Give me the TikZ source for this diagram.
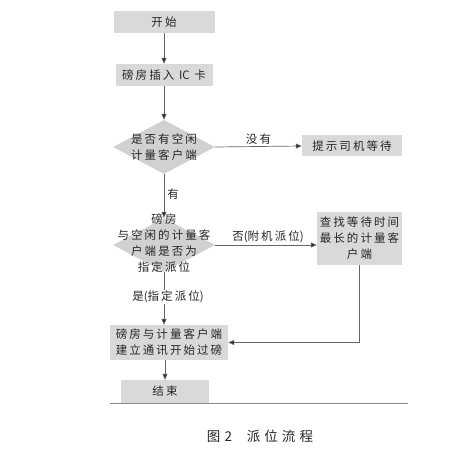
\documentclass[tikz,border=0pt]{standalone}
\usepackage{fontspec}
\setmainfont[LetterSpace=18]{Noto Sans CJK SC}
\newfontfamily\capfont[LetterSpace=30]{Noto Sans CJK SC}
\newfontfamily\tightfont{Noto Sans CJK SC}
\definecolor{boxgray}{gray}{0.85}
\definecolor{diagray}{gray}{0.82}
\definecolor{inkgray}{gray}{0.15}
\definecolor{wiregray}{gray}{0.40}
\definecolor{rulegray}{gray}{0.55}
\usepackage{tikz}
\usetikzlibrary{arrows.meta,positioning,calc,shapes.geometric}
\tikzset{
  procbox/.style={fill=boxgray,inner sep=0pt,align=center,text=inkgray},
  decbox/.style={diamond,fill=diagray,inner sep=0pt,minimum width=102pt,minimum height=54pt},
  dectxt/.style={align=center,text=inkgray,inner sep=0pt},
  flowarr/.style={draw=wiregray,line width=0.7pt,-{Triangle[width=5pt,length=6pt,fill=black!85]}},
  flowln/.style={draw=wiregray,line width=0.7pt},
  elab/.style={text=inkgray,inner sep=1pt},
}

\begin{document}
\begin{tikzpicture}[x=1pt,y=-1pt,font=\fontsize{11.5}{16}\selectfont]
        \fill[white] (0,0) rectangle (460,465);
        \useasboundingbox (0,0) rectangle (460,465);
        % kuang
        \node[procbox,minimum width=101pt,minimum height=22pt] (start) at (164,22) {开始};
        \node[procbox,minimum width=97pt,minimum height=22pt] (insert) at (164,75) {磅房插入 {\tightfont IC} 卡};
        \node[decbox] (q1) at (164,147) {};
        \node[dectxt] (q1t) at (q1) {是否有空闲\\计量客户端};
        \node[procbox,minimum width=100pt,minimum height=21pt] (wait) at (352,146) {提示司机等待};
        \node[decbox] (q2) at (164,245) {};
        \node[dectxt] (q2t) at (164,243) {磅房\\与空闲的计量客\\户端是否为\\指定派位};
        \node[procbox,minimum width=85pt,minimum height=53pt] (find) at (359.5,238.5) {查找等待时间\\最长的计量客\\户端};
        \node[elab] (yes) at (168,297) {是{\tightfont(}指定派位{\tightfont)}};
        \node[procbox,minimum width=118pt,minimum height=35pt] (link) at (169,342.5) {磅房与计量客户端\\建立通讯开始过磅};
        \node[procbox,minimum width=88pt,minimum height=23pt] (stop) at (165,391.5) {结束};
        % lianxian
        \draw[flowarr] (start.south) -- (insert.north);
        \draw[flowarr] (insert.south) -- (q1.north);
        \draw[flowarr] (q1.east) -- node[elab,above=1pt,pos=0.5]{没有} (wait.west);
        \draw[flowarr] (q1.south) -- node[elab,right=2pt,pos=0.45]{有} (q2.north);
        \draw[flowarr] (q2.east) -- node[elab,above=1pt,pos=0.52]{否{\tightfont(}附机派位{\tightfont)}} (find.west |- q2.east);
        \draw[flowln] (q2.south) -- (q2.south |- yes.north);
        \draw[flowarr] (q2.south |- yes.south) -- (q2.south |- link.north);
        \draw[flowarr] (find.south) |- (link.east);
        \draw[flowarr] (stop.north |- link.south) -- (stop.north);
        % tu ming
        \draw[rulegray,line width=0.6pt] (110,403.5) -- (408,403.5);
        \node[text=inkgray] (cap) at (260,436) {\capfont\fontsize{13.5}{15}\selectfont 图2\hspace{1.1em}派位流程};
      \end{tikzpicture}
\end{document}
